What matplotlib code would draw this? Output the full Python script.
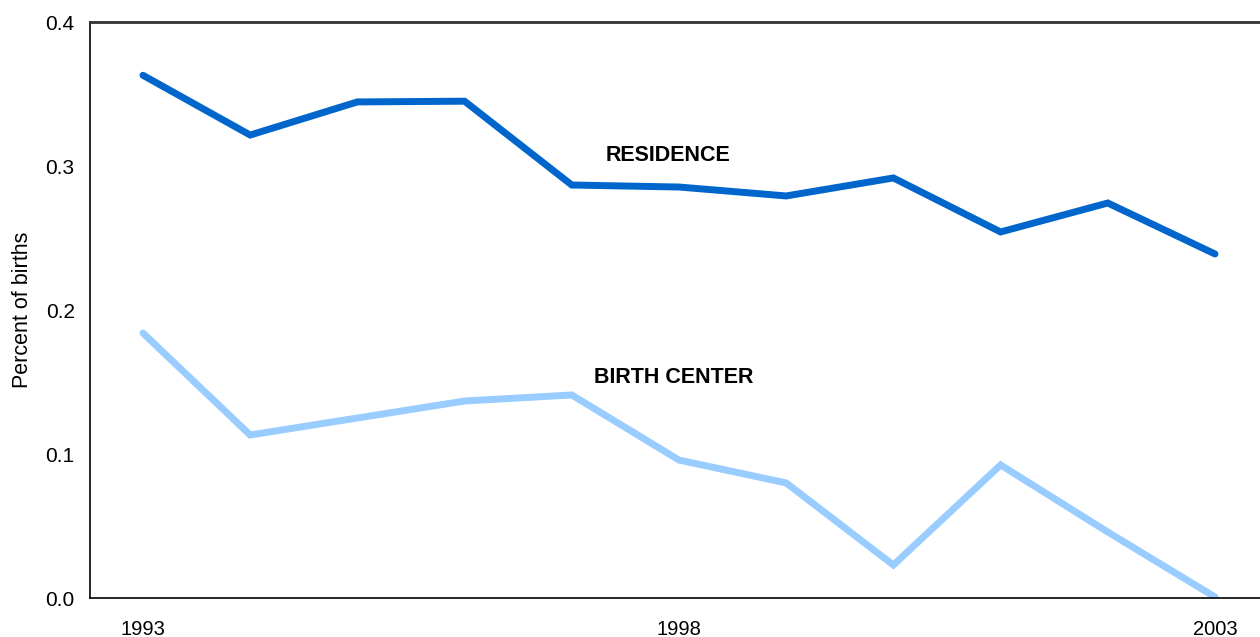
import matplotlib
matplotlib.use("Agg")
import matplotlib.pyplot as plt
from matplotlib.ticker import FormatStrFormatter

years = [1993, 1994, 1995, 1996, 1997, 1998, 1999, 2000, 2001, 2002, 2003]
residence = [0.363, 0.3215, 0.3445, 0.345, 0.2868, 0.2854, 0.2792, 0.2917, 0.2542, 0.2743, 0.2389]
birth_center = [0.184, 0.1132, 0.125, 0.1368, 0.141, 0.0958, 0.0799, 0.0229, 0.0924, 0.0458, 0.0007]
xtick_years = [1993, 1998, 2003]
yticks = [0.0, 0.1, 0.2, 0.3, 0.4]

plt.rcParams['font.family'] = ['Liberation Sans', 'DejaVu Sans']

fig = plt.figure(figsize=(12.6, 6.37), dpi=100)
ax = fig.add_axes([90/1260, 39/637, 1170/1260, 576/637])

ax.plot(years, residence, color='#0066CC', lw=5, solid_capstyle='round', solid_joinstyle='miter')
ax.plot(years, birth_center, color='#99CCFF', lw=5, solid_capstyle='round', solid_joinstyle='miter')

ax.text(1997.90, 0.307, 'RESIDENCE', fontsize=15.5, fontweight='bold', ha='center', va='center')
ax.text(1997.95, 0.1528, 'BIRTH CENTER', fontsize=15.5, fontweight='bold', ha='center', va='center')

ax.set_xlim(1992.506, 1993 + (1260 - 143) / 107.2)
ax.set_ylim(0, 0.4)
ax.set_xticks(xtick_years)
ax.set_xticklabels([str(y) for y in xtick_years])
ax.set_yticks(yticks)
ax.yaxis.set_major_formatter(FormatStrFormatter('%.1f'))
ax.tick_params(length=0)
ax.tick_params(axis='x', pad=16, labelsize=14.5)
ax.tick_params(axis='y', pad=11, labelsize=15)
ax.set_ylabel('Percent of births', fontsize=15.5, labelpad=9)

ax.spines['right'].set_visible(False)
for s in ['top', 'left', 'bottom']:
    ax.spines[s].set_linewidth(1.2)
    ax.spines[s].set_color('black')
ax.spines['top'].set_color('#333333')
ax.spines['top'].set_linewidth(2)

fig.savefig('out.png', dpi=100)
